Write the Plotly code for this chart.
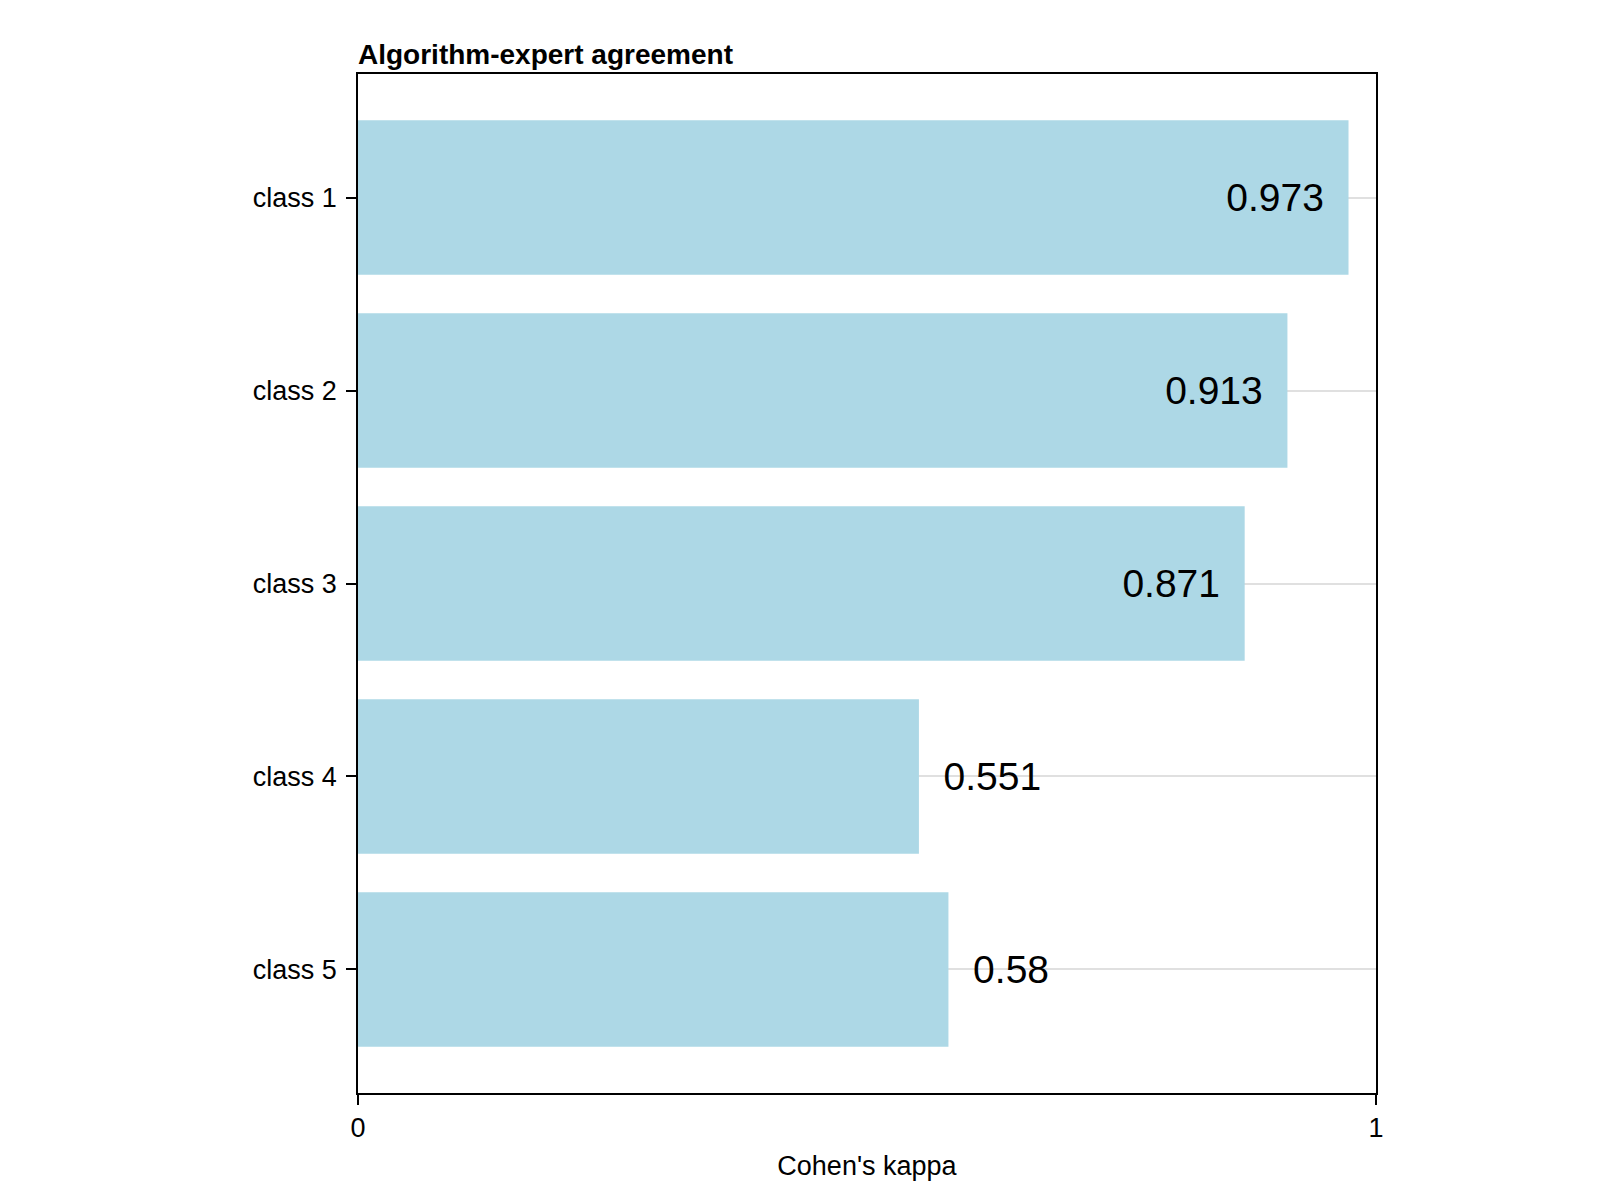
import plotly.graph_objects as go

categories = ["class 1", "class 2", "class 3", "class 4", "class 5"]
values = [0.973, 0.913, 0.871, 0.551, 0.58]
labels = ["0.973&nbsp;&nbsp;", "0.913&nbsp;&nbsp;", "0.871&nbsp;&nbsp;", "&nbsp;&nbsp;0.551", "&nbsp;&nbsp;0.58"]
positions = ["inside", "inside", "inside", "outside", "outside"]

fig = go.Figure(go.Bar(
    y=categories, x=values, orientation="h", width=0.8,
    marker=dict(color="#add8e6", line=dict(width=0)),
    text=labels, textposition=positions, insidetextanchor="end",
    textfont=dict(size=39, color="black"), cliponaxis=False,
))
fig.update_layout(
    width=1600, height=1200, plot_bgcolor="white", paper_bgcolor="white",
    font=dict(family="Liberation Sans, Arial, sans-serif", color="black", size=27),
    margin=dict(l=350, r=232, t=66, b=115),
    title=dict(text="<b>Algorithm-expert agreement</b>", x=350/1600, xanchor="left",
               y=1-46/1200, yanchor="middle", font=dict(size=28)),
    showlegend=False,
)
fig.update_xaxes(range=[0, 1], tickvals=[0, 1], ticktext=["0", "1"], showgrid=False,
                 showline=True, linecolor="black", linewidth=1.5, mirror=True,
                 ticks="outside", ticklen=10, tickwidth=1.5, tickcolor="black", zeroline=False,
                 title=dict(text="Cohen's kappa", font=dict(size=27), standoff=14))
fig.update_yaxes(autorange=False, range=[4.64, -0.64], showgrid=True, gridcolor="#e0e0e0",
                 gridwidth=1.5,
                 showline=True, linecolor="black", linewidth=1.5, mirror=True,
                 ticks="outside", ticklen=10, tickwidth=1.5, tickcolor="black", ticklabelstandoff=4)
fig.write_html("out.html")
